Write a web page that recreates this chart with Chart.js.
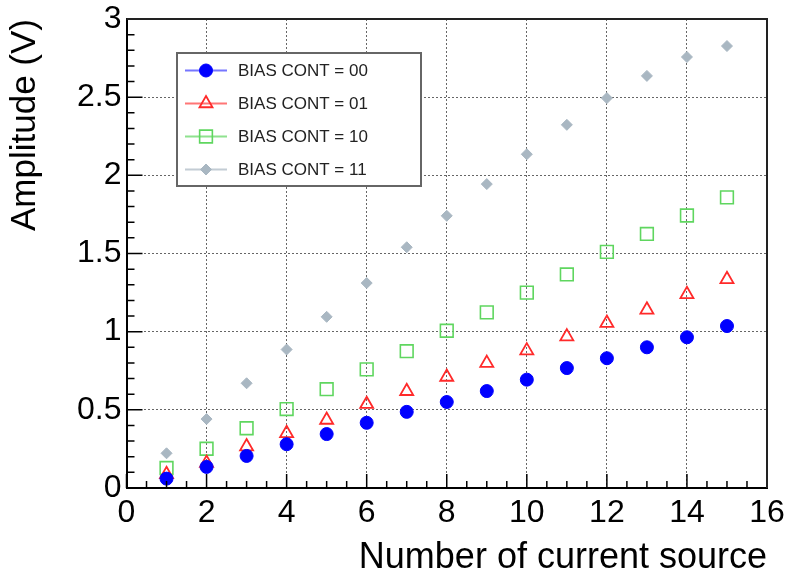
<!DOCTYPE html>
<html>
<head>
<meta charset="utf-8">
<script src="https://cdn.jsdelivr.net/npm/chart.js@4.4.1/dist/chart.umd.min.js"></script>
<style>
  html, body { margin: 0; padding: 0; background: #fff; }
  #wrap { width: 789px; height: 581px; }
</style>
</head>
<body>
<div id="wrap"><canvas id="ampChart" width="789" height="581"></canvas></div>
<script>
// number of current source (x)
const currentSource = [1, 2, 3, 4, 5, 6, 7, 8, 9, 10, 11, 12, 13, 14, 15];

// amplitude (V) per BIAS CONT setting
const bias00 = [0.060, 0.135, 0.205, 0.280, 0.345, 0.417, 0.487, 0.550, 0.620, 0.693, 0.767, 0.830, 0.900, 0.964, 1.036];
const bias01 = [0.088, 0.160, 0.265, 0.350, 0.435, 0.536, 0.619, 0.710, 0.799, 0.879, 0.968, 1.055, 1.140, 1.239, 1.335];
const bias10 = [0.128, 0.251, 0.382, 0.505, 0.632, 0.759, 0.875, 1.006, 1.123, 1.250, 1.366, 1.510, 1.625, 1.743, 1.859];
const bias11 = [0.222, 0.441, 0.670, 0.886, 1.095, 1.311, 1.540, 1.741, 1.944, 2.135, 2.323, 2.494, 2.636, 2.757, 2.827];

const seriesLabels = ['BIAS CONT = 00', 'BIAS CONT = 01', 'BIAS CONT = 10', 'BIAS CONT = 11'];

// axis ranges / tick steps
const xRange = [0, 16];
const yRange = [0, 3];
const xMajorStep = 2, xMinorStep = 0.5;
const yMajorStep = 0.5, yMinorStep = 0.1;

const FONT = '"Liberation Sans", Arial, Helvetica, sans-serif';

function toPoints(ys) {
    return currentSource.map((x, i) => ({ x: x, y: ys[i] }));
}

// ticks pointing into the frame, plus the top/right frame lines
const frameTicks = {
    id: 'frameTicks',
    afterDatasetsDraw(chart) {
        const { ctx, chartArea: a, scales: { x, y } } = chart;
        ctx.save();
        ctx.strokeStyle = '#000';
        ctx.lineWidth = 1.5;
        ctx.beginPath();
        for (let v = xRange[0]; v <= xRange[1] + 1e-9; v += xMinorStep) {
            const px = x.getPixelForValue(v);
            const major = Math.abs(v / xMajorStep - Math.round(v / xMajorStep)) < 1e-6;
            ctx.moveTo(px, a.bottom);
            ctx.lineTo(px, a.bottom - (major ? 14 : 7));
        }
        for (let v = yRange[0]; v <= yRange[1] + 1e-9; v += yMinorStep) {
            const py = y.getPixelForValue(v);
            const major = Math.abs(v / yMajorStep - Math.round(v / yMajorStep)) < 1e-6;
            ctx.moveTo(a.left, py);
            ctx.lineTo(a.left + (major ? 16 : 8), py);
        }
        ctx.stroke();

        ctx.strokeStyle = '#222';
        ctx.lineWidth = 2;
        ctx.beginPath();
        ctx.moveTo(a.left, a.top);
        ctx.lineTo(a.right, a.top);
        ctx.lineTo(a.right, a.bottom);
        ctx.stroke();
        ctx.restore();
    }
};

// ROOT-like legend box: line through marker, then label
const boxLegend = {
    id: 'boxLegend',
    afterDraw(chart) {
        const ctx = chart.ctx;
        const box = { left: 177, top: 53, right: 421, bottom: 186 };
        ctx.save();
        ctx.fillStyle = '#fff';
        ctx.fillRect(box.left, box.top, box.right - box.left, box.bottom - box.top);
        ctx.strokeStyle = '#666';
        ctx.lineWidth = 2;
        ctx.strokeRect(box.left, box.top, box.right - box.left, box.bottom - box.top);

        chart.data.datasets.forEach((ds, i) => {
            const cy = 70.5 + i * 33;
            ctx.strokeStyle = ds.legendLine;
            ctx.lineWidth = 2;
            ctx.beginPath();
            ctx.moveTo(185, cy);
            ctx.lineTo(227, cy);
            ctx.stroke();

            ctx.fillStyle = ds.pointBackgroundColor;
            ctx.strokeStyle = ds.pointBorderColor;
            ctx.lineWidth = ds.pointBorderWidth;
            Chart.helpers.drawPoint(ctx, {
                pointStyle: ds.pointStyle,
                radius: ds.legendRadius,
                rotation: 0,
                borderWidth: ds.pointBorderWidth
            }, 206, cy);

            ctx.fillStyle = '#222';
            ctx.font = '17px ' + FONT;
            ctx.textBaseline = 'middle';
            ctx.textAlign = 'left';
            ctx.fillText(ds.label, 238, cy + 1);
        });
        ctx.restore();
    }
};

const ctx = document.getElementById('ampChart').getContext('2d');
const ampChart = new Chart(ctx, {
    type: 'scatter',
    data: {
        datasets: [{
            label: seriesLabels[0],
            data: toPoints(bias00),
            pointStyle: 'circle',
            pointRadius: 6.5,
            legendRadius: 6.5,
            pointBackgroundColor: '#0000ff',
            pointBorderColor: '#0000ff',
            pointBorderWidth: 1,
            legendLine: 'rgba(60,60,255,0.7)'
        }, {
            label: seriesLabels[1],
            data: toPoints(bias01),
            pointStyle: 'triangle',
            pointRadius: 7.5,
            legendRadius: 7.5,
            pointBackgroundColor: 'rgba(0,0,0,0)',
            pointBorderColor: '#ff2a2a',
            pointBorderWidth: 1.8,
            legendLine: 'rgba(255,60,60,0.7)'
        }, {
            label: seriesLabels[2],
            data: toPoints(bias10),
            pointStyle: 'rect',
            pointRadius: 9,
            legendRadius: 9,
            pointBackgroundColor: 'rgba(0,0,0,0)',
            pointBorderColor: '#5fd65f',
            pointBorderWidth: 1.6,
            legendLine: 'rgba(95,214,95,0.7)'
        }, {
            label: seriesLabels[3],
            data: toPoints(bias11),
            pointStyle: 'rectRot',
            pointRadius: 5.5,
            legendRadius: 5.5,
            pointBackgroundColor: '#a9b7c2',
            pointBorderColor: '#a9b7c2',
            pointBorderWidth: 1,
            legendLine: 'rgba(169,183,194,0.7)'
        }]
    },
    options: {
        responsive: false,
        animation: false,
        devicePixelRatio: 1,
        layout: { padding: { top: 19, right: 22, left: 0, bottom: 0 } },
        plugins: {
            legend: { display: false },
            tooltip: { enabled: false }
        },
        scales: {
            x: {
                type: 'linear',
                min: xRange[0],
                max: xRange[1],
                afterFit(scale) {
                    scale.height = 93;
                    scale.paddingLeft = 0;
                    scale.paddingRight = 0;
                },
                ticks: {
                    stepSize: xMajorStep,
                    color: '#000',
                    padding: 6,
                    maxRotation: 0,
                    font: { family: FONT, size: 32 }
                },
                grid: {
                    color: 'rgba(0,0,0,0.6)',
                    lineWidth: 1,
                    drawTicks: false
                },
                border: { display: true, color: '#000', width: 2, dash: [2, 2] },
                title: {
                    display: true,
                    text: 'Number of current source',
                    align: 'end',
                    color: '#000',
                    padding: { top: 0, bottom: 1 },
                    font: { family: FONT, size: 36 }
                }
            },
            y: {
                type: 'linear',
                min: yRange[0],
                max: yRange[1],
                afterFit(scale) {
                    scale.width = 126.5;
                    scale.paddingTop = 0;
                    scale.paddingBottom = 0;
                },
                ticks: {
                    stepSize: yMajorStep,
                    color: '#000',
                    padding: 5,
                    font: { family: FONT, size: 32 },
                    callback: (v) => String(Math.round(v * 10) / 10)
                },
                grid: {
                    color: 'rgba(0,0,0,0.6)',
                    lineWidth: 1,
                    drawTicks: false
                },
                border: { display: true, color: '#000', width: 2, dash: [2, 2] },
                title: {
                    display: true,
                    text: 'Amplitude (V)',
                    align: 'end',
                    color: '#000',
                    padding: { top: 4, bottom: 0 },
                    font: { family: FONT, size: 35 }
                }
            }
        }
    },
    plugins: [frameTicks, boxLegend]
});
</script>
</body>
</html>
